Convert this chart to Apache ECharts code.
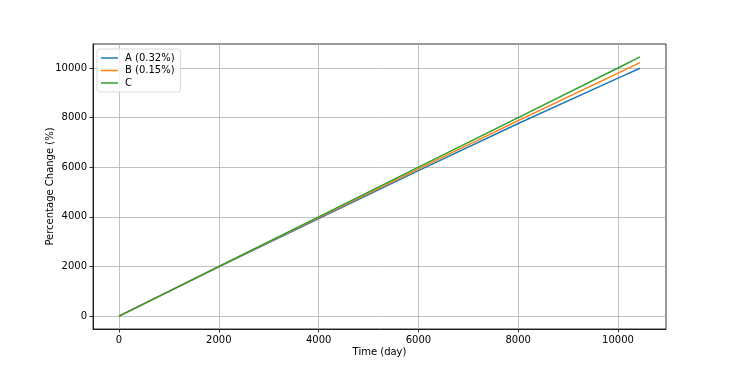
<!DOCTYPE html>
<html>
<head>
<meta charset="utf-8">
<script src="https://cdn.jsdelivr.net/npm/echarts@6/dist/echarts.min.js"></script>
<style>html,body{margin:0;padding:0;background:#fff;}#c{width:740px;height:370px;}</style>
</head>
<body>
<div id="c"></div>
<script>
const days = [0, 2000, 4000, 6000, 8000, 10000, 10440];
const seriesA = [0, 1980, 3930, 5860, 7760, 9590, 9988];
const seriesB = [0, 1990, 3965, 5930, 7880, 9790, 10214];
const seriesC = [0, 2000, 4000, 6000, 8000, 10000, 10444];
const names = ['A (0.32%)', 'B (0.15%)', 'C'];
const xTicks = [0, 2000, 4000, 6000, 8000, 10000];
const yTicks = [0, 2000, 4000, 6000, 8000, 10000];

const colors = ['#1f77b4', '#ff7f0e', '#2ca02c'];
const font = 'DejaVu Sans';
const pairs = arr => days.map((d, i) => [d, arr[i]]);
const fmt = v => String(Math.round(v));

const chart = echarts.init(document.getElementById('c'), null, {renderer: 'canvas'});
chart.setOption({
  animation: false,
  backgroundColor: '#fff',
  color: colors,
  textStyle: {fontFamily: font},
  grid: {left: 93, right: 74, top: 44, bottom: 41, show: true, borderColor: '#000', borderWidth: 0.8, containLabel: false},
  legend: {
    orient: 'vertical', left: 97, top: 49,
    data: names,
    icon: 'rect', itemWidth: 17, itemHeight: 1.5, itemGap: 2.5,
    padding: [4, 6, 4, 4],
    borderColor: '#d0d0d0', borderWidth: 0.8, borderRadius: 3,
    backgroundColor: 'rgba(255,255,255,0.8)',
    textStyle: {fontFamily: font, fontSize: 10, color: '#000', padding: [0, 0, 0, 2]}
  },
  xAxis: {
    type: 'value', min: -522, max: 10962,
    name: 'Time (day)', nameLocation: 'middle', nameGap: 18, nameMoveOverlap: false,
    nameTextStyle: {fontFamily: font, fontSize: 10, color: '#000'},
    axisLine: {show: true, onZero: false, lineStyle: {color: '#000', width: 0.8}},
    axisTick: {show: true, inside: false, length: 3.5, lineStyle: {color: '#000', width: 0.8}, customValues: xTicks},
    axisLabel: {fontFamily: font, fontSize: 10, color: '#000', margin: 6, customValues: xTicks, formatter: fmt},
    splitLine: {show: true, lineStyle: {color: '#b0b0b0', width: 0.8}}
  },
  yAxis: {
    type: 'value', min: -522, max: 10966,
    name: 'Percentage Change (%)', nameLocation: 'middle', nameGap: 38, nameRotate: 90, nameMoveOverlap: false,
    nameTextStyle: {fontFamily: font, fontSize: 10, color: '#000'},
    axisLine: {show: true, onZero: false, lineStyle: {color: '#000', width: 0.8}},
    axisTick: {show: true, inside: false, length: 3.5, lineStyle: {color: '#000', width: 0.8}, customValues: yTicks},
    axisLabel: {fontFamily: font, fontSize: 10, color: '#000', margin: 6, customValues: yTicks, formatter: fmt},
    splitLine: {show: true, lineStyle: {color: '#b0b0b0', width: 0.8}}
  },
  series: [
    {name: names[0], type: 'line', data: pairs(seriesA), showSymbol: false, lineStyle: {width: 1.5}, z: 3},
    {name: names[1], type: 'line', data: pairs(seriesB), showSymbol: false, lineStyle: {width: 1.5}, z: 4},
    {name: names[2], type: 'line', data: pairs(seriesC), showSymbol: false, lineStyle: {width: 1.5}, z: 5}
  ]
});
</script>
</body>
</html>
